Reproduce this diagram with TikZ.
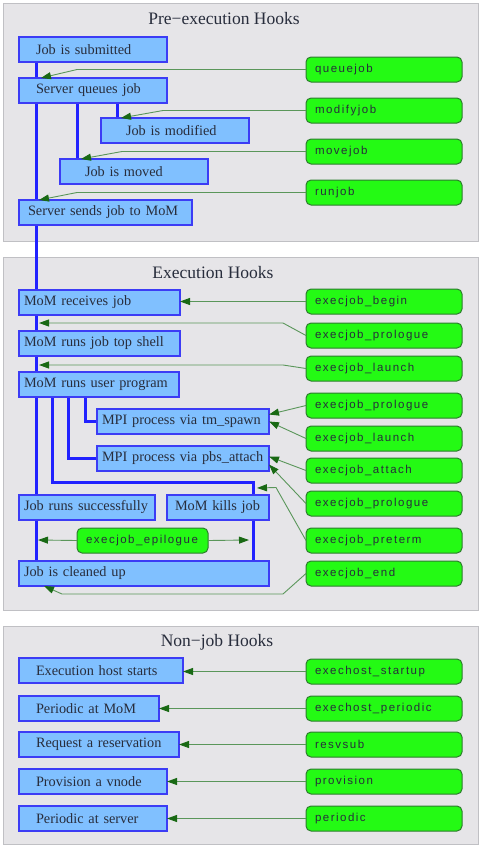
\documentclass[tikz,border=0pt]{standalone}
\usepackage{fontspec}
\setmainfont{Liberation Serif}
\newfontfamily\hookfont[LetterSpace=13]{Liberation Sans}
\usetikzlibrary{arrows.meta}
\pgfdeclarelayer{back}
\pgfdeclarelayer{mid}
\pgfsetlayers{back,mid,main}
\definecolor{clfill}{RGB}{230,229,232}
\definecolor{cldraw}{RGB}{192,192,196}
\definecolor{bfill}{RGB}{128,192,255}
\definecolor{bborder}{RGB}{60,60,245}
\definecolor{lblue}{RGB}{34,34,255}
\definecolor{gfill}{RGB}{36,250,20}
\definecolor{gborder}{RGB}{45,125,45}
\definecolor{aline}{RGB}{90,150,90}
\definecolor{ahead}{RGB}{25,105,20}
\definecolor{txt}{RGB}{40,45,60}
\begin{document}
\begin{tikzpicture}[x=1pt,y=-1pt,
  clus/.style={draw=cldraw, fill=clfill, line width=1pt, anchor=north west, minimum width=475pt, inner sep=0pt, outer sep=0pt},
  ctitle/.style={font=\fontsize{17.5}{20}\selectfont, text=txt, inner sep=0pt},
  bbox/.style={draw=bborder, fill=bfill, line width=1.5pt, anchor=north west, minimum height=25pt, inner ysep=0pt, outer sep=0pt, align=left, font=\fontsize{14.3}{16}\selectfont, text=txt},
  gbox/.style={draw=gborder, fill=gfill, line width=1pt, rounded corners=5pt, anchor=north west, minimum height=25pt, text width=138pt, inner xsep=9pt, inner ysep=0pt, outer sep=0pt, align=left, font=\hookfont\fontsize{11.5}{13}\selectfont, text=txt},
  flow/.style={draw=lblue, line width=3pt},
  hook/.style={draw=aline, line width=0.9pt, -{Triangle[length=10pt,width=7pt,fill=ahead,color=ahead]}}
]
\useasboundingbox (0,0) rectangle (481,847);
% clusters
\begin{pgfonlayer}{back}
\node[clus, minimum height=238pt] (c1) at (3,3) {};
\node[clus, minimum height=353pt] (c2) at (3,257) {};
\node[clus, minimum height=218pt] (c3) at (3,626) {};
\end{pgfonlayer}
\node[ctitle] (t1) at (224,19) {Pre−execution Hooks};
\node[ctitle] (t2) at (213,273) {Execution Hooks};
\node[ctitle] (t3) at (217,642) {Non−job Hooks};

\coordinate (mx) at (36,0);
\coordinate (x52) at (52,0);
\coordinate (x68) at (68,0);
\coordinate (x85) at (85,0);
\coordinate (kx) at (253,0);

% pre-execution boxes
\node[bbox, text width=114pt, inner xsep=17pt] (js) at (19,37) {Job is submitted};
\node[bbox, text width=114pt, inner xsep=17pt] (sq) at (19,78) {Server queues job};
\node[bbox, text width=98pt, inner xsep=25pt] (jmod) at (101,118) {Job is modified};
\node[bbox, text width=98pt, inner xsep=25pt] (jmov) at (60,159) {Job is moved};
\node[bbox, text width=155pt, inner xsep=9pt] (ss) at (19,200) {Server sends job to MoM};
% execution boxes
\node[bbox, text width=151pt, inner xsep=5pt] (mr) at (19,290) {MoM receives job};
\node[bbox, text width=151pt, inner xsep=5pt] (mt) at (19,331) {MoM runs job top shell};
\node[bbox, text width=150pt, inner xsep=5pt] (mu) at (19,372) {MoM runs user program};
\node[bbox, text width=162pt, inner xsep=5pt] (ts) at (97,409) {MPI process via tm\_spawn};
\node[bbox, text width=162pt, inner xsep=5pt] (pa) at (97,446) {MPI process via pbs\_attach};
\node[bbox, text width=126pt, inner xsep=5pt] (jr) at (19,495) {Job runs successfully};
\node[bbox, text width=94pt, inner xsep=4pt] (mk) at (167,495) {\hspace*{4pt}MoM kills job};
\node[bbox, text width=240pt, inner xsep=5pt] (jc) at (19,561) {Job is cleaned up};
% non-job boxes
\node[bbox, text width=130pt, inner xsep=17pt] (eh) at (19,658) {Execution host starts};
\node[bbox, text width=106pt, inner xsep=17pt] (pm) at (19,696) {Periodic at MoM};
\node[bbox, text width=126pt, inner xsep=17pt] (rr) at (19,732) {Request a reservation};
\node[bbox, text width=114pt, inner xsep=17pt] (pv) at (19,769) {Provision a vnode};
\node[bbox, text width=114pt, inner xsep=17pt] (ps) at (19,806) {Periodic at server};

% hook boxes
\node[gbox] (q) at (306,57) {queuejob};
\node[gbox] (mj) at (306,98) {modifyjob};
\node[gbox] (mv) at (306,139) {movejob};
\node[gbox] (rj) at (306,180) {runjob};
\node[gbox] (eb) at (306,289) {execjob\_begin};
\node[gbox] (ep1) at (306,323) {execjob\_prologue};
\node[gbox] (el1) at (306,356) {execjob\_launch};
\node[gbox] (ep2) at (306,393) {execjob\_prologue};
\node[gbox] (el2) at (306,426) {execjob\_launch};
\node[gbox] (ea) at (306,458) {execjob\_attach};
\node[gbox] (ep3) at (306,491) {execjob\_prologue};
\node[gbox] (ept) at (306,528) {execjob\_preterm};
\node[gbox] (ee) at (306,561) {execjob\_end};
\node[gbox, text width=113pt] (epi) at (77,528) {execjob\_epilogue};
\node[gbox] (hs) at (306,659) {exechost\_startup};
\node[gbox] (hp) at (306,696) {exechost\_periodic};
\node[gbox] (rv) at (306,732) {resvsub};
\node[gbox] (pr) at (306,769) {provision};
\node[gbox] (pd) at (306,806) {periodic};

% edge target points
\coordinate (e1) at (39,323);
\coordinate (e2) at (39,365);
\coordinate (kt) at (257,488);
\coordinate (cl) at (38,540);
\coordinate (cr) at (249,540);

% flow lines
\begin{pgfonlayer}{mid}
\draw[flow] (js.south -| mx) -- (jr.north -| mx);
\draw[flow] (jr.south -| mx) -- (jc.north -| mx);
\draw[flow] ([xshift=16pt]jmod.north west) -- ([xshift=16pt]jmod.north west |- sq.south);
\draw[flow] ([xshift=17pt]jmov.north west) -- ([xshift=17pt]jmov.north west |- sq.south);
\draw[flow] (mu.south -| x85) |- (ts.west);
\draw[flow] (mu.south -| x68) |- (pa.west);
\draw[flow] (mu.south -| x52) |- ([yshift=13pt]mk.north -| kx) -- (mk.north -| kx);
\draw[flow] (mk.south -| kx) -- (jc.north -| kx);
\end{pgfonlayer}

% hook connectors
\draw[hook] (q.west) -- (77,69.5) -- ([xshift=22pt]sq.north west);
\draw[hook] (mj.west) -- (163,110.5) -- ([xshift=20pt]jmod.north west);
\draw[hook] (mv.west) -- (122,151.5) -- ([xshift=21pt]jmov.north west);
\draw[hook] (rj.west) -- (77,192.5) -- ([xshift=20pt]ss.north west);
\draw[hook] (eb.west) -- (eb.west -| mr.east);
\draw[hook] (ep1.west) -- (283,323) -- (e1);
\draw[hook] (el1.west) -- (283,365) -- (e2);
\draw[hook] (ep2.west) -- ([yshift=7pt]ts.east);
\draw[hook] (el2.west) -- (ts.east);
\draw[hook] (ea.west) -- ([yshift=2pt]pa.east);
\draw[hook] (ep3.west) -- ([yshift=-6pt]pa.east);
\draw[hook] (ept.west) -- (276,487.5) -- (kt);
\draw[hook] (epi.west) -- (cl);
\draw[hook] (epi.east) -- (cr);
\draw[hook] (ee.west) -- (283,594) -- (62,594) -- ([xshift=25pt]jc.south west);
\draw[hook] (hs.west) -- (hs.west -| eh.east);
\draw[hook] (hp.west) -- (hp.west -| pm.east);
\draw[hook] (rv.west) -- (rv.west -| rr.east);
\draw[hook] (pr.west) -- (pr.west -| pv.east);
\draw[hook] (pd.west) -- (pd.west -| ps.east);
\end{tikzpicture}
\end{document}
